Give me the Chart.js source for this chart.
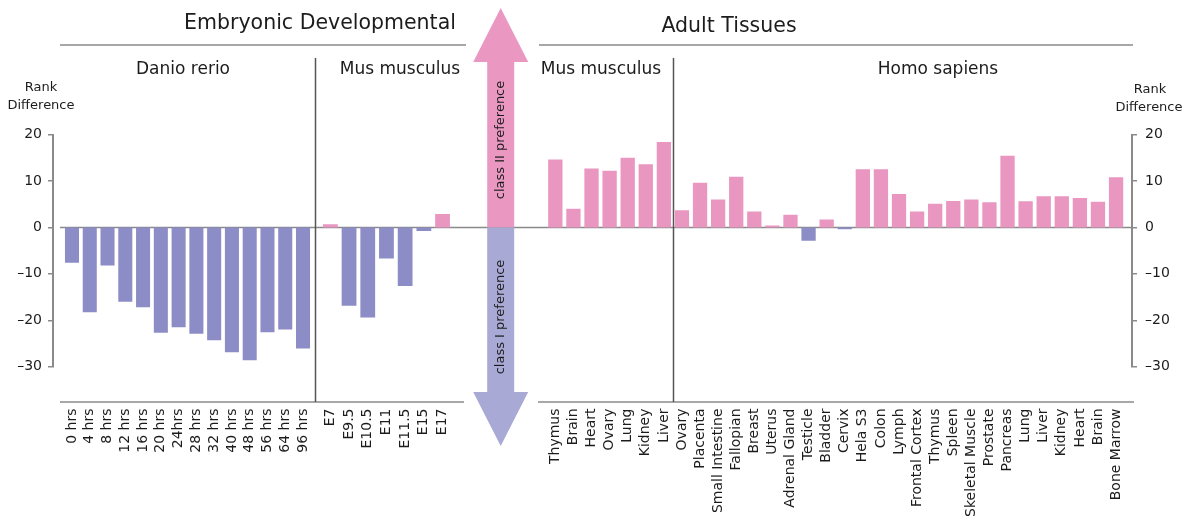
<!DOCTYPE html>
<html>
<head>
<meta charset="utf-8">
<script src="https://cdn.jsdelivr.net/npm/chart.js@4.4.1/dist/chart.umd.min.js"></script>
<style>
  html, body { margin: 0; padding: 0; background: #ffffff; }
  #wrap { position: relative; width: 1184px; height: 521px; overflow: hidden; background: #ffffff; }
  #wrap canvas { position: absolute; left: 0; top: 0; }
</style>
</head>
<body>
<div id="wrap">
  <canvas id="frame" width="1184" height="521"></canvas>
  <canvas id="danio" width="1184" height="521"></canvas>
  <canvas id="musEmb" width="1184" height="521"></canvas>
  <canvas id="adult" width="1184" height="521"></canvas>
</div>
<script>
// ---- data: rank difference (class II minus class I) per sample ----
const danioLabels = ['0 hrs', '4 hrs', '8 hrs', '12 hrs', '16 hrs', '20 hrs', '24hrs', '28 hrs', '32 hrs', '40 hrs', '48 hrs', '56 hrs', '64 hrs', '96 hrs'];
const danioValues = [-7.6, -18.3, -8.2, -16.0, -17.2, -22.7, -21.5, -22.9, -24.3, -26.9, -28.6, -22.6, -22.0, -26.1];

const musEmbLabels = ['E7', 'E9.5', 'E10.5', 'E11', 'E11.5', 'E15', 'E17'];
const musEmbValues = [0.7, -16.9, -19.4, -6.7, -12.6, -0.8, 2.9];

const musAdultLabels = ['Thymus', 'Brain', 'Heart', 'Ovary', 'Lung', 'Kidney', 'Liver'];
const musAdultValues = [14.6, 4.0, 12.7, 12.2, 15.0, 13.6, 18.4];

const homoLabels = ['Ovary', 'Placenta', 'Small Intestine', 'Fallopian', 'Breast', 'Uterus', 'Adrenal Gland', 'Testicle', 'Bladder', 'Cervix', 'Hela S3', 'Colon', 'Lymph', 'Frontal Cortex', 'Thymus', 'Spleen', 'Skeletal Muscle', 'Prostate', 'Pancreas', 'Lung', 'Liver', 'Kidney', 'Heart', 'Brain', 'Bone Marrow'];
const homoValues = [3.7, 9.6, 6.0, 10.9, 3.4, 0.4, 2.7, -2.9, 1.7, -0.4, 12.5, 12.5, 7.2, 3.4, 5.1, 5.7, 6.0, 5.4, 15.4, 5.6, 6.7, 6.7, 6.3, 5.5, 10.8];

const rankMin = -30;
const rankMax = 20;
const rankStep = 10;

// ---- text ----
const titleEmbryonic = 'Embryonic Developmental';
const titleAdult = 'Adult Tissues';
const groupDanio = 'Danio rerio';
const groupMus = 'Mus musculus';
const groupHomo = 'Homo sapiens';
const axisTitle = ['Rank', 'Difference'];
const arrowUpText = 'class II preference';
const arrowDownText = 'class I preference';

// ---- styling ----
const FONT = '"DejaVu Sans", "Noto Sans", sans-serif';
const INK = '#1c1c1c';
const RULE = '#8a8a8a';
const PINK = '#e996c1';
const LAVENDER = '#8c8cc6';
const ARROW_PINK = '#ea98c2';
const ARROW_LAVENDER = '#a9a9d6';

const W = 1184, H = 521;
const PLOT_TOP = 134.5;      // pixel of rank 20
const PLOT_BOTTOM = 366.7;   // pixel of rank -30
const LABEL_LINE_Y = 402;
const HEADER_LINE_Y = 45;

Chart.defaults.font.family = FONT;
Chart.defaults.color = INK;

function rankTick(v) {
  return v < 0 ? '\u2013' + Math.abs(v) : String(v);
}

function line(ctx, x1, y1, x2, y2, color, width) {
  ctx.save();
  ctx.strokeStyle = color;
  ctx.lineWidth = width;
  ctx.beginPath();
  ctx.moveTo(x1, y1);
  ctx.lineTo(x2, y2);
  ctx.stroke();
  ctx.restore();
}

function text(ctx, str, x, y, size, align, rotate) {
  ctx.save();
  ctx.fillStyle = INK;
  ctx.font = size + 'px ' + FONT;
  ctx.textAlign = align || 'center';
  ctx.textBaseline = 'middle';
  ctx.translate(x, y);
  if (rotate) ctx.rotate(rotate);
  ctx.fillText(str, 0, 0);
  ctx.restore();
}

// frame: both rank axes, zero line, panel rules, headers and the preference arrow
const framePlugin = {
  id: 'frameDecor',
  afterDraw(chart) {
    const ctx = chart.ctx;
    const y = chart.scales.y;
    const zeroY = y.getPixelForValue(0);
    const topY = y.getPixelForValue(rankMax);

    // zero line across all panels
    line(ctx, 60, zeroY, 1132, zeroY, RULE, 1.5);

    // header rules and label baselines
    line(ctx, 60, HEADER_LINE_Y, 466, HEADER_LINE_Y, RULE, 1.5);
    line(ctx, 539, HEADER_LINE_Y, 1133, HEADER_LINE_Y, RULE, 1.5);
    line(ctx, 60, LABEL_LINE_Y, 464, LABEL_LINE_Y, RULE, 1.5);
    line(ctx, 538, LABEL_LINE_Y, 1134, LABEL_LINE_Y, RULE, 1.5);

    // panel dividers
    line(ctx, 315.5, 58, 315.5, LABEL_LINE_Y, '#555555', 1.5);
    line(ctx, 673.5, 58, 673.5, LABEL_LINE_Y, '#555555', 1.5);

    // headers
    text(ctx, titleEmbryonic, 320, 24, 20.5);
    text(ctx, titleAdult, 729, 27, 20.5);
    text(ctx, groupDanio, 183, 70, 17);
    text(ctx, groupMus, 400, 70, 17);
    text(ctx, groupMus, 601, 70, 17);
    text(ctx, groupHomo, 938, 70, 17);

    // axis titles
    text(ctx, axisTitle[0], 41, 88, 13);
    text(ctx, axisTitle[1], 41, 106, 13);
    text(ctx, axisTitle[0], 1150, 90, 13);
    text(ctx, axisTitle[1], 1149, 108, 13);

    // preference arrow
    const cx = 500.7, shaftHalf = 13.5, headHalf = 27.5, headLen = 54;
    const upTip = 8, downTip = 446;
    ctx.save();
    ctx.fillStyle = ARROW_PINK;
    ctx.beginPath();
    ctx.moveTo(cx, upTip);
    ctx.lineTo(cx + headHalf, upTip + headLen);
    ctx.lineTo(cx + shaftHalf, upTip + headLen);
    ctx.lineTo(cx + shaftHalf, zeroY);
    ctx.lineTo(cx - shaftHalf, zeroY);
    ctx.lineTo(cx - shaftHalf, upTip + headLen);
    ctx.lineTo(cx - headHalf, upTip + headLen);
    ctx.closePath();
    ctx.fill();
    ctx.fillStyle = ARROW_LAVENDER;
    ctx.beginPath();
    ctx.moveTo(cx, downTip);
    ctx.lineTo(cx + headHalf, downTip - headLen);
    ctx.lineTo(cx + shaftHalf, downTip - headLen);
    ctx.lineTo(cx + shaftHalf, zeroY);
    ctx.lineTo(cx - shaftHalf, zeroY);
    ctx.lineTo(cx - shaftHalf, downTip - headLen);
    ctx.lineTo(cx - headHalf, downTip - headLen);
    ctx.closePath();
    ctx.fill();
    ctx.restore();
    text(ctx, arrowUpText, cx, 140, 13, 'center', -Math.PI / 2);
    text(ctx, arrowDownText, cx, 317, 13, 'center', -Math.PI / 2);
  }
};

function rankAxis(position, width, pad) {
  return {
    position: position,
    min: rankMin,
    max: rankMax,
    ticks: { stepSize: rankStep, padding: pad, color: INK, font: { size: 14 }, callback: rankTick },
    grid: { drawOnChartArea: false, tickLength: 5, color: RULE, lineWidth: 1.5 },
    border: { display: true, color: RULE, width: 2 },
    afterFit(scale) { scale.width = width; }
  };
}

new Chart(document.getElementById('frame'), {
  type: 'bar',
  data: { labels: [], datasets: [] },
  options: {
    responsive: false,
    animation: false,
    events: [],
    layout: { padding: { top: PLOT_TOP, bottom: H - PLOT_BOTTOM, left: 0, right: 0 } },
    plugins: { legend: { display: false }, tooltip: { enabled: false } },
    scales: {
      x: { display: false },
      y: rankAxis('left', 53, 6),
      y2: rankAxis('right', W - 1132, 8)
    }
  },
  plugins: [framePlugin]
});

// one bar panel per group of samples
function barPanel(id, labels, values, left, right) {
  return new Chart(document.getElementById(id), {
    type: 'bar',
    data: {
      labels: labels,
      datasets: [{
        data: values,
        backgroundColor: values.map(v => (v >= 0 ? PINK : LAVENDER)),
        borderWidth: 0,
        barPercentage: 0.79,
        categoryPercentage: 1
      }]
    },
    options: {
      responsive: false,
      animation: false,
      events: [],
      layout: { padding: { top: PLOT_TOP, bottom: 0, left: left, right: W - right } },
      plugins: { legend: { display: false }, tooltip: { enabled: false } },
      scales: {
        x: {
          grid: { display: false, drawTicks: false },
          border: { display: false },
          ticks: { autoSkip: false, minRotation: 90, maxRotation: 90, padding: 41.8, color: INK, font: { size: 14 } },
          afterFit(scale) { scale.height = H - PLOT_BOTTOM; }
        },
        y: { display: false, min: rankMin, max: rankMax }
      }
    }
  });
}

barPanel('danio', danioLabels, danioValues, 63.1, 311.9);
barPanel('musEmb', musEmbLabels, musEmbValues, 321.0, 451.9);
barPanel('adult', musAdultLabels.concat(homoLabels), musAdultValues.concat(homoValues), 546.3, 1125.1);
</script>
</body>
</html>
